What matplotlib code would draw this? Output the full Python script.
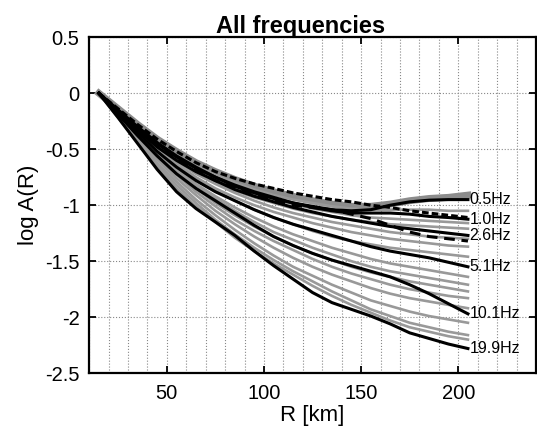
import numpy as np
import matplotlib
matplotlib.use('Agg')
from matplotlib import pyplot as plt
from matplotlib.ticker import MultipleLocator

plt.rcParams['font.family'] = ['Liberation Sans', 'DejaVu Sans']

# distances [km]
R = [15, 25, 35, 45, 55, 65, 75, 85, 95, 105, 115, 125, 135, 145, 155, 165, 175, 185, 195, 205]

# labelled frequencies (black)
f05 = [0, -.15, -.30, -.44, -.56, -.66, -.75, -.83, -.89, -.94, -.98, -1.01, -1.04, -1.05, -1.04, -1.00, -.97, -.955, -.95, -.95]
f10 = [0, -.16, -.31, -.45, -.57, -.67, -.75, -.82, -.88, -.93, -.98, -1.02, -1.05, -1.07, -1.07, -1.07, -1.08, -1.10, -1.11, -1.125]
f26 = [0, -.17, -.33, -.48, -.60, -.70, -.78, -.86, -.92, -.97, -1.02, -1.06, -1.10, -1.13, -1.16, -1.19, -1.21, -1.23, -1.25, -1.27]
f51 = [0, -.18, -.35, -.52, -.66, -.78, -.88, -.96, -1.04, -1.11, -1.17, -1.22, -1.27, -1.32, -1.37, -1.41, -1.44, -1.47, -1.51, -1.55]
f101 = [0, -.19, -.38, -.56, -.72, -.85, -.96, -1.07, -1.18, -1.28, -1.36, -1.43, -1.49, -1.54, -1.59, -1.64, -1.71, -1.79, -1.88, -1.97]
f199 = [0, -.22, -.45, -.68, -.88, -1.03, -1.15, -1.27, -1.41, -1.54, -1.66, -1.78, -1.87, -1.93, -1.99, -2.06, -2.14, -2.19, -2.24, -2.28]
black = [f05, f10, f26, f51, f101, f199]
labels = ['0.5Hz', '1.0Hz', '2.6Hz', '5.1Hz', '10.1Hz', '19.9Hz']

# dashed black curves
dashdot = [0, -.14, -.28, -.41, -.52, -.62, -.70, -.76, -.81, -.85, -.89, -.92, -.95, -.97, -1.00, -1.02, -1.05, -1.07, -1.09, -1.11]
dashed = [0, -.16, -.32, -.46, -.58, -.69, -.78, -.85, -.91, -.96, -1.00, -1.02, -1.04, -1.08, -1.12, -1.18, -1.24, -1.28, -1.30, -1.32]

# thick grey band near 0.5 Hz
gthick = [0, -.14, -.28, -.41, -.52, -.62, -.70, -.77, -.83, -.88, -.92, -.96, -.99, -1.01, -1.01, -.99, -.96, -.94, -.93, -.91]

# other frequencies (grey)
grey = [
    [0, -.15, -.30, -.43, -.55, -.65, -.73, -.80, -.86, -.91, -.95, -.98, -1.01, -1.03, -1.04, -1.04, -1.04, -1.04, -1.05, -1.05],
    [0, -.16, -.31, -.45, -.57, -.68, -.77, -.84, -.90, -.95, -.99, -1.03, -1.06, -1.09, -1.11, -1.12, -1.13, -1.14, -1.15, -1.16],
    [0, -.16, -.32, -.47, -.59, -.70, -.79, -.87, -.93, -.98, -1.03, -1.07, -1.10, -1.13, -1.15, -1.17, -1.18, -1.19, -1.20, -1.21],
    [0, -.17, -.33, -.48, -.61, -.72, -.81, -.89, -.96, -1.02, -1.07, -1.11, -1.15, -1.18, -1.21, -1.24, -1.26, -1.28, -1.29, -1.30],
    [0, -.17, -.34, -.50, -.63, -.75, -.85, -.93, -1.00, -1.06, -1.11, -1.16, -1.20, -1.24, -1.27, -1.30, -1.32, -1.34, -1.36, -1.37],
    [0, -.18, -.35, -.51, -.65, -.77, -.87, -.96, -1.04, -1.11, -1.17, -1.23, -1.28, -1.32, -1.35, -1.38, -1.40, -1.42, -1.44, -1.46],
    [0, -.18, -.36, -.53, -.68, -.81, -.92, -1.02, -1.11, -1.19, -1.26, -1.32, -1.38, -1.43, -1.48, -1.52, -1.55, -1.58, -1.61, -1.64],
    [0, -.19, -.37, -.54, -.69, -.82, -.94, -1.05, -1.15, -1.24, -1.31, -1.38, -1.44, -1.50, -1.55, -1.59, -1.62, -1.65, -1.68, -1.71],
    [0, -.19, -.38, -.55, -.71, -.85, -.98, -1.09, -1.19, -1.28, -1.36, -1.43, -1.49, -1.55, -1.60, -1.64, -1.68, -1.71, -1.74, -1.77],
    [0, -.20, -.39, -.57, -.73, -.88, -1.01, -1.13, -1.23, -1.32, -1.40, -1.48, -1.55, -1.61, -1.66, -1.71, -1.75, -1.78, -1.81, -1.83],
    [0, -.20, -.40, -.59, -.76, -.91, -1.05, -1.17, -1.28, -1.38, -1.47, -1.55, -1.62, -1.68, -1.74, -1.79, -1.83, -1.86, -1.89, -1.92],
    [0, -.21, -.42, -.62, -.79, -.95, -1.09, -1.22, -1.34, -1.45, -1.55, -1.63, -1.71, -1.78, -1.85, -1.90, -1.95, -1.99, -2.02, -2.05],
    [0, -.21, -.43, -.64, -.82, -.98, -1.13, -1.26, -1.38, -1.49, -1.59, -1.68, -1.77, -1.85, -1.93, -1.99, -2.05, -2.09, -2.13, -2.16],
    [0, -.22, -.44, -.66, -.85, -1.01, -1.15, -1.29, -1.41, -1.52, -1.62, -1.72, -1.81, -1.89, -1.96, -2.03, -2.09, -2.13, -2.17, -2.20],
]

fig = plt.figure(figsize=(5.37, 4.38), dpi=100)
ax = fig.add_axes([0.166, 0.148, 0.832, 0.767])

ax.plot(R, gthick, color='#8c8c8c', lw=5, zorder=2)
for g in grey:
    ax.plot(R, g, color='#999999', lw=1.9, zorder=2)
for b in black:
    ax.plot(R, b, color='k', lw=2.2, zorder=3)
ax.plot(R, dashdot, color='k', lw=2.2, ls=(0, (2.2, 1.0)), zorder=3)
ax.plot(R, dashed, color='k', lw=2.2, ls=(0, (3.5, 2.2)), zorder=3)

for b, lab in zip(black, labels):
    ax.text(R[-1] + 0.8, b[-1], lab, fontsize=11.5, va='center', ha='left', zorder=4)

ax.set_xlim(10, 240)
ax.set_ylim(-2.5, 0.5)
ax.xaxis.set_major_locator(MultipleLocator(50))
ax.xaxis.set_minor_locator(MultipleLocator(10))
ax.set_yticks([0.5, 0, -0.5, -1, -1.5, -2, -2.5])
ax.set_yticklabels(['0.5', '0', '-0.5', '-1', '-1.5', '-2', '-2.5'])
ax.grid(True, which='major', ls=':', color='#888888', lw=0.8)
ax.grid(True, which='minor', axis='x', ls=':', color='#888888', lw=0.8)
ax.tick_params(which='major', direction='in', top=True, right=True, length=5, width=1.3, labelsize=14.5)
ax.tick_params(axis='y', pad=7)
ax.tick_params(axis='x', pad=8)
ax.tick_params(which='minor', length=0)
for s in ax.spines.values():
    s.set_linewidth(1.6)

ax.set_xlabel('R [km]', fontsize=16, labelpad=1)
ax.set_ylabel('log A(R)', fontsize=16, labelpad=4)
ax.set_title('All frequencies', fontsize=17, fontweight='bold', pad=3, x=0.473)

fig.savefig('out.png', dpi=100)
